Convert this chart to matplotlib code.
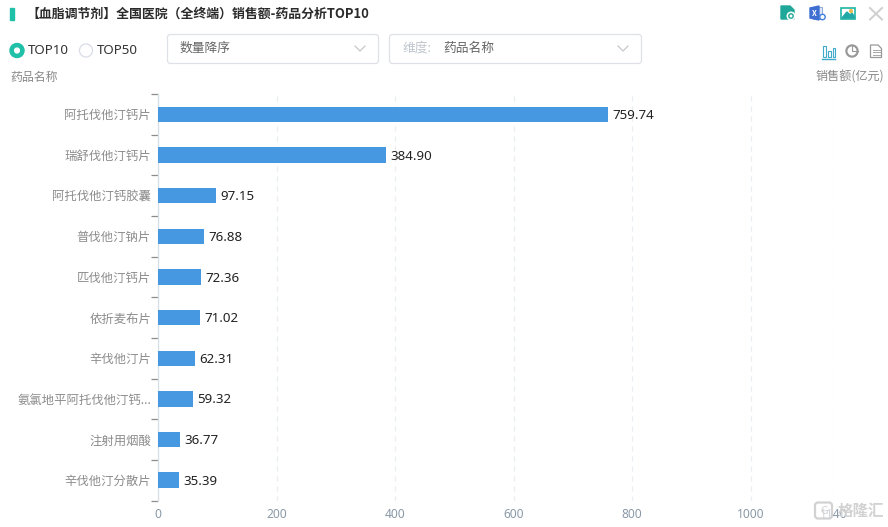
import matplotlib
matplotlib.use("Agg")
import matplotlib.pyplot as plt
from matplotlib.patches import Rectangle, FancyBboxPatch, Circle, Wedge, Polygon
from matplotlib.lines import Line2D

plt.rcParams['font.family'] = ['Noto Sans CJK SC', 'DejaVu Sans']
LATIN = ['Noto Sans', 'Noto Sans CJK SC']

drugs = ['阿托伐他汀钙片', '瑞舒伐他汀钙片', '阿托伐他汀钙胶囊', '普伐他汀钠片', '匹伐他汀钙片',
         '依折麦布片', '辛伐他汀片', '氨氯地平阿托伐他汀钙...', '注射用烟酸', '辛伐他汀分散片']
sales = [759.74, 384.90, 97.15, 76.88, 72.36, 71.02, 62.31, 59.32, 36.77, 35.39]
x_ticks = [0, 200, 400, 600, 800, 1000, 1140]
x_max = 1140

W, H = 888, 527
fig = plt.figure(figsize=(W / 100, H / 100), dpi=100, facecolor='white')

ax = fig.add_axes([158 / W, 1 - 500.5 / H, (833.5 - 158) / W, (500.5 - 94) / H])
pos = list(range(len(drugs)))
ax.barh(pos, sales, height=0.38, color='#4698e0', zorder=3)
ax.set_ylim(len(drugs) - 0.5, -0.5)
ax.set_xlim(0, x_max)
ax.set_xticks(x_ticks)
ax.set_xticklabels([str(t) for t in x_ticks], fontsize=8.6, color='#8a99a8', family=LATIN)
ax.tick_params(axis='x', length=0, pad=5.5)
ax.set_yticks(pos)
ax.set_yticklabels(drugs, fontsize=8.9, color='#8c8c8c')
ax.tick_params(axis='y', length=0, pad=5)
ax.set_yticks([p - 0.5 for p in pos] + [len(drugs) - 0.5], minor=True)
ax.tick_params(axis='y', which='minor', length=5, width=0.9, color='#8c8c8c', direction='out')
for s in ['top', 'right', 'bottom']:
    ax.spines[s].set_visible(False)
ax.spines['left'].set_color('#d5dfe6')
ax.spines['left'].set_linewidth(0.9)
ax.grid(axis='x', color='#e8eff2', linestyle=(0, (4, 4)), linewidth=0.9, zorder=0)
ax.set_axisbelow(True)
for p, v in zip(pos, sales):
    ax.annotate(f'{v:.2f}', (v, p), xytext=(3.2, -0.8), textcoords='offset points',
                va='center', ha='left', fontsize=9.6, color='#222222', zorder=4, family=LATIN)

# page furniture drawn in pixel coordinates
ov = fig.add_axes([0, 0, 1, 1], facecolor='none')
ov.set_xlim(0, W)
ov.set_ylim(H, 0)
ov.axis('off')

ov.add_patch(Rectangle((10, 8), 4, 12, color='#1fbfa8'))
ov.text(26, 13.5, '【血脂调节剂】全国医院（全终端）销售额-药品分析TOP10', fontsize=9.3,
        fontweight='bold', color='#2b2b2b', va='center', ha='left')

ov.add_patch(Circle((17, 50.5), 7, color='#1fbfa8'))
ov.add_patch(Circle((17, 50.5), 2.4, color='white'))
ov.text(28, 51, 'TOP10', fontsize=9.6, color='#333333', va='center', family=LATIN)
ov.add_patch(Circle((86, 50.5), 6.5, facecolor='white', edgecolor='#d9dce6', linewidth=0.9))
ov.text(97, 51, 'TOP50', fontsize=9.6, color='#333333', va='center', family=LATIN)

for x0, x1 in [(167.5, 378.5), (389.5, 641.5)]:
    ov.add_patch(FancyBboxPatch((x0, 34.5), x1 - x0, 29,
                                boxstyle='round,pad=0,rounding_size=3',
                                facecolor='white', edgecolor='#dfe1e6', linewidth=0.9))
for xc in [360, 623]:
    ov.add_line(Line2D([xc - 5, xc, xc + 5], [46, 51, 46], color='#c4c7cc', linewidth=0.9))
ov.text(180, 48.5, '数量降序', fontsize=9.2, color='#666666', va='center')
ov.text(402, 48.5, '维度:', fontsize=9.2, color='#c0c6cf', va='center')
ov.text(443, 48.5, '药品名称', fontsize=9.2, color='#666666', va='center')

ov.text(10, 77, '药品名称', fontsize=8.6, color='#888888', va='center')
ov.text(884, 77, '销售额(亿元)', fontsize=8.7, color='#888888', va='center', ha='right')

# toolbar icons
ov.add_patch(Polygon([(781, 6), (790, 6), (794, 10), (794, 19), (781, 19)], color='#1fa899'))
ov.add_patch(Circle((791, 16), 3.8, color='white'))
ov.add_patch(Circle((791, 16), 2.2, facecolor='white', edgecolor='#1fa899', linewidth=1))
ov.add_patch(Rectangle((813, 7), 9, 12, facecolor='#dce6f5', edgecolor='#8fa9dc', linewidth=0.7))
ov.add_patch(Polygon([(810, 8), (819, 6), (819, 20), (810, 18)], color='#3f6fd1'))
ov.text(814.5, 13, 'X', fontsize=5.5, color='white', ha='center', va='center', fontweight='bold')
ov.add_patch(Circle((822.5, 17), 2.7, facecolor='white', edgecolor='#3f7fe0', linewidth=1))
ov.add_patch(Rectangle((841, 7.5), 14, 11.5, facecolor='white', edgecolor='#1fb5a5', linewidth=1.2))
ov.add_patch(Polygon([(842, 18), (847, 12), (850, 15), (852, 13), (855, 18)], color='#1fa8a5'))
ov.add_patch(Circle((851, 11), 1.3, color='#f0b84a'))
ov.add_line(Line2D([870, 882], [8, 19.5], color='#cfcfcf', linewidth=1.4))
ov.add_line(Line2D([882, 870], [8, 19.5], color='#cfcfcf', linewidth=1.4))

for bx, bh in [(823, 11), (828, 6), (832.5, 9)]:
    ov.add_patch(Rectangle((bx, 57 - bh), 2.5, bh, facecolor='white', edgecolor='#3fa9c9', linewidth=0.8))
ov.add_line(Line2D([821.5, 835], [58.5, 58.5], color='#3fa9c9', linewidth=1))
ov.add_patch(Wedge((852, 51), 6, 0, 360, width=0.8, color='#999999'))
ov.add_line(Line2D([852, 852, 858], [45, 51, 51], color='#999999', linewidth=0.8))
ov.add_patch(Polygon([(870.5, 45), (878, 45), (881.5, 48.5), (881.5, 57.5), (870.5, 57.5)],
                     facecolor='white', edgecolor='#999999', linewidth=0.9))
for ly in [49.5, 52, 54.5]:
    ov.add_line(Line2D([872.5, 879.5], [ly, ly], color='#a8a8a8', linewidth=0.7))

# watermark
ov.add_patch(FancyBboxPatch((815, 502.5), 17, 16, boxstyle='round,pad=0,rounding_size=3',
                            facecolor=(1, 1, 1, 0.6), edgecolor='#d2d2d2', linewidth=1.6, zorder=5))
ov.text(824, 511, 'G', fontsize=8, color='#d2d2d2', ha='center', va='center', zorder=6)
ov.text(837.5, 510.5, '格隆汇', fontsize=11.2, color='#d2d2d2', fontweight='bold', va='center', zorder=6)

fig.savefig('out.png', dpi=100)
